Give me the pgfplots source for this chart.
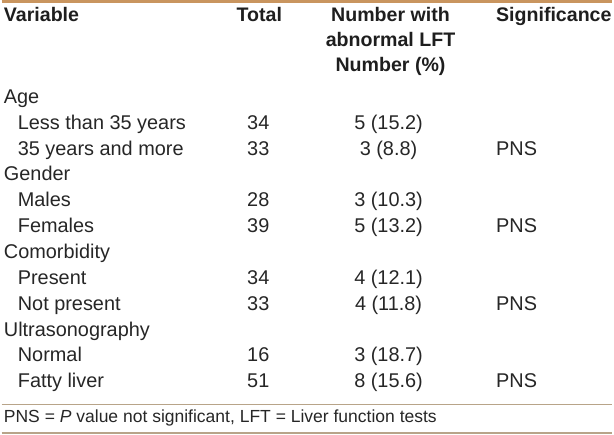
\documentclass[border=0pt]{standalone}
\usepackage{fontspec}
\setmainfont{Liberation Sans}
\usepackage{pgfplots}
\usepackage{pgfplotstable}
\pgfplotsset{compat=1.18}
\definecolor{toprule}{HTML}{C9955F}
\definecolor{thinrule}{HTML}{B8A489}
\definecolor{txt}{HTML}{262626}
\definecolor{hdr}{HTML}{1E1E1E}

% header cells
\pgfplotstableread[col sep=semicolon]{
x;y;label
2;22;Variable
497;22;Significance
}\hdrleft
\pgfplotstableread[col sep=semicolon]{
x;y;label
259;22;Total
391;22;Number with
391;47;abnormal LFT
391;72;{Number (\%)}
}\hdrcenter

% row labels
\pgfplotstableread[col sep=semicolon]{
x;y;label
2;104;Age
16;130;Less than 35 years
16;156;35 years and more
2;182;Gender
16;208;Males
16;234;Females
2;260;Comorbidity
16;286;Present
16;312;Not present
2;338;Ultrasonography
16;364;Normal
16;390;Fatty liver
}\rowlabels

% Total
\pgfplotstableread[col sep=semicolon]{
x;y;label
258;130;34
258;156;33
258;208;28
258;234;39
258;286;34
258;312;33
258;364;16
258;390;51
}\totals

% Number with abnormal LFT, Number (%)
\pgfplotstableread[col sep=semicolon]{
x;y;label
389;130;5 (15.2)
389;156;3 (8.8)
389;208;3 (10.3)
389;234;5 (13.2)
389;286;4 (12.1)
389;312;4 (11.8)
389;364;3 (18.7)
389;390;8 (15.6)
}\abnormal

% Significance
\pgfplotstableread[col sep=semicolon]{
x;y;label
497;156;PNS
497;234;PNS
497;312;PNS
497;390;PNS
}\signif

\pgfplotsset{
  cell/.style={draw=none, mark=none,
    nodes near coords, point meta=explicit symbolic, forget plot},
}
\tikzset{
  bodyfont/.style={font=\fontsize{20}{24}\selectfont, text=txt, inner sep=0pt},
  hdrfont/.style={font=\fontsize{19.7}{23}\selectfont\bfseries, text=hdr, inner sep=0pt},
}

\begin{document}
\begin{tikzpicture}
\begin{axis}[
  x=1pt, y=1pt, y dir=reverse,
  xmin=0, xmax=614, ymin=0, ymax=437,
  hide axis, clip=false,
]
% rules
\addplot[toprule, line width=3.5pt, forget plot] coordinates {(0,1.75) (614,1.75)};
\addplot[thinrule, line width=1.3pt, forget plot] coordinates {(0,407) (614,407)};
\addplot[thinrule, line width=1.3pt, forget plot] coordinates {(0,435.5) (614,435.5)};

% header
\addplot[cell, every node near coord/.append style={hdrfont, anchor=base west}]
  table[x=x, y=y, meta=label] {\hdrleft};
\addplot[cell, every node near coord/.append style={hdrfont, anchor=base}]
  table[x=x, y=y, meta=label] {\hdrcenter};

% body
\addplot[cell, every node near coord/.append style={bodyfont, anchor=base west}]
  table[x=x, y=y, meta=label] {\rowlabels};
\addplot[cell, every node near coord/.append style={bodyfont, anchor=base}]
  table[x=x, y=y, meta=label] {\totals};
\addplot[cell, every node near coord/.append style={bodyfont, anchor=base}]
  table[x=x, y=y, meta=label] {\abnormal};
\addplot[cell, every node near coord/.append style={bodyfont, anchor=base west}]
  table[x=x, y=y, meta=label] {\signif};

% footnote
\node[anchor=base west, inner sep=0pt, font=\fontsize{17.6}{21}\selectfont, text=txt]
  at (axis cs:2,425) {PNS = \textit{P} value not significant, LFT = Liver function tests};
\end{axis}
\path (0,0) rectangle (614pt,437pt);
\end{tikzpicture}
\end{document}
